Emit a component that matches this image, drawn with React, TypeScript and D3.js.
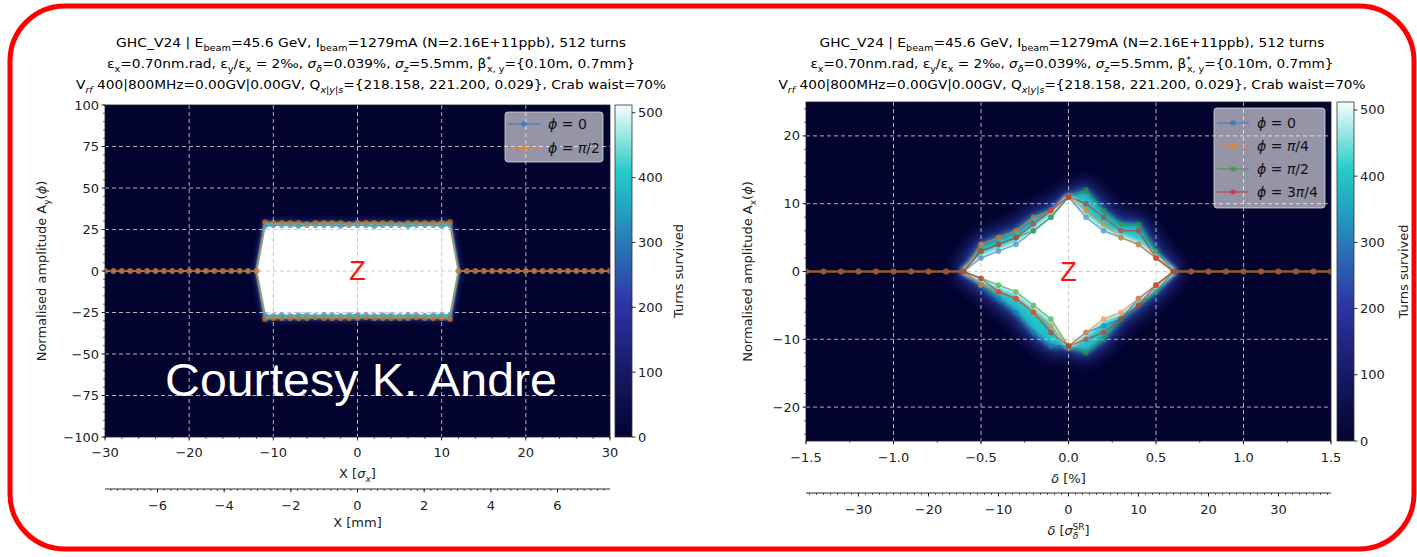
import React from "react";
import * as d3 from "d3";

const W = 1417;
const H = 557;
const FONT = "DejaVu Sans, sans-serif";

// colour map (fraction of max turns -> colour)
const cmapStops = [0, 0.2, 0.4, 0.55, 0.7, 0.8, 0.9, 1];
const cmapColors = ["#03032f", "#161a66", "#2e34a6", "#2a6db4", "#22a8c2", "#25cbc8", "#8fe5e0", "#f7fdfd"];
const turnsMax = 512;
const cbTicks = [0, 100, 200, 300, 400, 500];

// left panel: horizontal scan in sigma_x, vertical amplitude A_y
const leftX = d3.range(-30, 31);
const leftUp0 = [0, 0, 0, 0, 0, 0, 0, 0, 0, 0, 0, 0, 0, 0, 0, 0, 0, 0, 0,
  27, 27.5, 27.5, 27.5, 27, 27.5, 27.5, 27.5, 27.5, 27, 27.5, 27.5, 27.5, 27, 27.5, 27.5, 27.5, 27, 27.5, 27.5, 27.5, 27, 27.5,
  0, 0, 0, 0, 0, 0, 0, 0, 0, 0, 0, 0, 0, 0, 0, 0, 0, 0, 0];
const leftDn0 = [0, 0, 0, 0, 0, 0, 0, 0, 0, 0, 0, 0, 0, 0, 0, 0, 0, 0, 0,
  -26.5, -27, -26.5, -27, -26.5, -26.5, -27, -26.5, -26.5, -27, -26.5, -26.5, -26.5, -27, -26.5, -26.5, -27, -26.5, -26.5, -27, -26.5, -26.5, -26.5,
  0, 0, 0, 0, 0, 0, 0, 0, 0, 0, 0, 0, 0, 0, 0, 0, 0, 0, 0];
const leftUp1 = [0, 0, 0, 0, 0, 0, 0, 0, 0, 0, 0, 0, 0, 0, 0, 0, 0, 0, 0,
  29.5, 29, 29, 29, 29, 28.5, 29, 29, 29, 29, 28.5, 29, 29, 29, 29, 29, 28.5, 29, 29, 29, 29, 29, 29.5,
  0, 0, 0, 0, 0, 0, 0, 0, 0, 0, 0, 0, 0, 0, 0, 0, 0, 0, 0];
const leftDn1 = [0, 0, 0, 0, 0, 0, 0, 0, 0, 0, 0, 0, 0, 0, 0, 0, 0, 0, 0,
  -29, -28.5, -28.5, -28.5, -28.5, -28.5, -28, -28.5, -28.5, -28.5, -28.5, -28.5, -28, -28.5, -28.5, -28.5, -28.5, -28.5, -28, -28.5, -28.5, -28.5, -29,
  0, 0, 0, 0, 0, 0, 0, 0, 0, 0, 0, 0, 0, 0, 0, 0, 0, 0, 0];
const sigmaXmm = 0.2525; // mm per sigma_x (secondary axis)

// right panel: momentum scan delta [%], horizontal amplitude A_x
const rightX = [-1.5, -1.4, -1.3, -1.2, -1.1, -1.0, -0.9, -0.8, -0.7, -0.6, -0.5, -0.4, -0.3, -0.2, -0.1, 0,
  0.1, 0.2, 0.3, 0.4, 0.5, 0.6, 0.7, 0.8, 0.9, 1.0, 1.1, 1.2, 1.3, 1.4, 1.5];
const rightUp0 = [0, 0, 0, 0, 0, 0, 0, 0, 0, 0, 2, 3, 4, 6, 8, 11, 8, 6, 5, 4, 2, 0, 0, 0, 0, 0, 0, 0, 0, 0, 0];
const rightDn0 = [0, 0, 0, 0, 0, 0, 0, 0, 0, 0, -2, -4, -6, -9, -11, -11, -9, -8, -7, -4, -2, 0, 0, 0, 0, 0, 0, 0, 0, 0, 0];
const rightUp1 = [0, 0, 0, 0, 0, 0, 0, 0, 0, 0, 4, 5, 6, 8, 9, 11, 9, 7, 5, 4, 2, 0, 0, 0, 0, 0, 0, 0, 0, 0, 0];
const rightDn1 = [0, 0, 0, 0, 0, 0, 0, 0, 0, 0, -2, -3, -4, -6, -8, -11, -9, -7, -6, -4, -2, 0, 0, 0, 0, 0, 0, 0, 0, 0, 0];
const rightUp2 = [0, 0, 0, 0, 0, 0, 0, 0, 0, 0, 3, 4, 5, 6, 8, 11, 12, 9, 7, 7, 3, 0, 0, 0, 0, 0, 0, 0, 0, 0, 0];
const rightDn2 = [0, 0, 0, 0, 0, 0, 0, 0, 0, 0, -1, -2, -3, -5, -7, -11, -12, -10, -7, -5, -3, 0, 0, 0, 0, 0, 0, 0, 0, 0, 0];
const rightUp3 = [0, 0, 0, 0, 0, 0, 0, 0, 0, 0, 3, 4, 5, 7, 9, 11, 10, 8, 6, 6, 2, 0, 0, 0, 0, 0, 0, 0, 0, 0, 0];
const rightDn3 = [0, 0, 0, 0, 0, 0, 0, 0, 0, 0, -1, -3, -4, -6, -9, -11, -10, -9, -7, -5, -2, 0, 0, 0, 0, 0, 0, 0, 0, 0, 0];
const sigmaDelta = 0.04; // % per sigma_delta^SR

const C0 = "#1f77b4", C1 = "#ff7f0e", C2 = "#2ca02c", C3 = "#d62728";

const cmap = d3.scaleLinear<string>().domain(cmapStops).range(cmapColors).interpolate(d3.interpolateRgb);

type Seg = [string, string?, number?];

function Rich({ segs, size, ...rest }: any) {
  let off = 0;
  return (
    <text {...rest} fontSize={size} style={{ whiteSpace: "pre" }}>
      {segs.map(([t, k = "", dx = 0]: Seg, i: number) => {
        const small = k.includes("s") || k.includes("p");
        const target = k.includes("s") ? size * 0.28 : k.includes("p") ? -size * 0.4 : 0;
        const dy = target - off;
        off = target;
        return (
          <tspan key={i} dy={dy} dx={dx} fontSize={small ? size * 0.7 : size} fontStyle={k.includes("i") ? "italic" : "normal"}>
            {t}
          </tspan>
        );
      })}
    </text>
  );
}

const title1: Seg[] = [["GHC_V24 | E"], ["beam", "s"], ["=45.6 GeV, I"], ["beam", "s"], ["=1279mA (N=2.16E+11ppb), 512 turns"]];
const title2: Seg[] = [["ε"], ["x", "s"], ["=0.70nm.rad, ε"], ["y", "s"], ["/ε"], ["x", "s"], [" = 2‰, "], ["σ", "i"], ["δ", "si"],
  ["=0.039%, "], ["σ", "i"], ["z", "si"], ["=5.5mm, β"], ["*", "p"], ["x, y", "s", -4], ["={0.10m, 0.7mm}"]];
const title3: Seg[] = [["V"], ["rf", "si"], [" 400|800MHz=0.00GV|0.00GV, Q"], ["x|y|s", "si"], ["={218.158, 221.200, 0.029}, Crab waist=70%"]];

const minus = (s: string) => s.replace("-", "\u2212");

function Panel(c: any) {
  const { id, x, y, sec, xs, series } = c;
  const [X0, X1] = x.range();
  const [Y1, Y0] = y.range();
  const n = xs.length;
  const outUp = xs.map((_: number, i: number) => d3.max(series, (s: any) => s.up[i]) as number);
  const outDn = xs.map((_: number, i: number) => d3.min(series, (s: any) => s.dn[i]) as number);
  const inUp = xs.map((_: number, i: number) => d3.min(series, (s: any) => s.up[i]) as number);
  const inDn = xs.map((_: number, i: number) => d3.max(series, (s: any) => s.dn[i]) as number);
  // surviving stretch: first/last scan point with non-zero amplitude, plus one neighbour
  const nz = d3.range(n).filter((i) => outUp[i] !== 0 || outDn[i] !== 0);
  const iA = Math.max(0, (d3.min(nz) as number) - 1);
  const iB = Math.min(n - 1, (d3.max(nz) as number) + 1);
  const poly = (up: number[], dn: number[]) => {
    const pts: [number, number][] = [];
    for (let i = iA; i <= iB; i++) pts.push([x(xs[i]), y(up[i])]);
    for (let i = iB; i >= iA; i--) pts.push([x(xs[i]), y(dn[i])]);
    return d3.line()(pts) + "Z";
  };
  const line = d3.line<number>().x((_, i) => x(xs[i])).y((v) => y(v));
  const cbY = d3.scaleLinear([0, turnsMax], [Y1, Y0]);
  const cbR = c.cbX + c.cbW;
  const tl = (v: number) => minus(c.xFmt(v));
  return (
    <g>
      <defs>
        <clipPath id={id + "-clip"}>
          <rect x={X0} y={Y0} width={X1 - X0} height={Y1 - Y0} />
        </clipPath>
        {c.blur.map((b: number, i: number) => (
          <filter key={i} id={`${id}-b${i}`} x="-50%" y="-50%" width="200%" height="200%">
            <feGaussianBlur stdDeviation={b} />
          </filter>
        ))}
        <linearGradient id={id + "-cb"} x1="0" y1="1" x2="0" y2="0">
          {cmapStops.map((s, i) => (
            <stop key={i} offset={s} stopColor={cmapColors[i]} />
          ))}
        </linearGradient>
      </defs>

      {/* titles */}
      <Rich segs={title1} size={13} x={c.titleCx} y={47} textAnchor="middle" textLength={c.titleW[0]} lengthAdjust="spacingAndGlyphs" />
      <Rich segs={title2} size={13} x={c.titleCx} y={68} textAnchor="middle" textLength={c.titleW[1]} lengthAdjust="spacingAndGlyphs" />
      <Rich segs={title3} size={13} x={c.titleCx} y={89} textAnchor="middle" textLength={c.titleW[2]} lengthAdjust="spacingAndGlyphs" />

      {/* survival map */}
      <g clipPath={`url(#${id}-clip)`}>
        <rect x={X0} y={Y0} width={X1 - X0} height={Y1 - Y0} fill={cmap(0)} />
        <path d={poly(outUp, outDn)} fill={cmap(0.42)} stroke={cmap(0.42)} strokeWidth={c.haloW} strokeLinejoin="round" opacity={0.9} filter={`url(#${id}-b0)`} />
        <path d={poly(outUp, outDn)} fill={cmap(0.78)} stroke={cmap(0.78)} strokeWidth={1} filter={`url(#${id}-b1)`} />
        <path d={poly(inUp, inDn)} fill="#ffffff" stroke="#ffffff" strokeWidth={c.whiteW} strokeLinejoin="round" filter={`url(#${id}-b2)`} />
        {c.xGrid.map((v: number) => (
          <line key={"gx" + v} x1={x(v)} x2={x(v)} y1={Y0} y2={Y1} stroke="#c4c4c4" strokeWidth={0.9} strokeDasharray="4,3" />
        ))}
        {c.yGrid.map((v: number) => (
          <line key={"gy" + v} x1={X0} x2={X1} y1={y(v)} y2={y(v)} stroke="#c4c4c4" strokeWidth={0.9} strokeDasharray="4,3" />
        ))}
        {series.map((s: any, k: number) => (
          <g key={k} opacity={0.6}>
            <path d={line(s.up) as string} fill="none" stroke={s.color} strokeWidth={1.5} />
            <path d={line(s.dn) as string} fill="none" stroke={s.color} strokeWidth={1.5} />
            {xs.map((v: number, i: number) => (
              <g key={i}>
                <circle cx={x(v)} cy={y(s.up[i])} r={2.8} fill={s.color} />
                <circle cx={x(v)} cy={y(s.dn[i])} r={2.8} fill={s.color} />
              </g>
            ))}
          </g>
        ))}
        <text x={x(0)} y={y(0) + 9} textAnchor="middle" fontSize={27} fill="#ff1010" fontFamily="Liberation Sans, Arial, sans-serif">Z</text>
      </g>
      <rect x={X0} y={Y0} width={X1 - X0} height={Y1 - Y0} fill="none" stroke="#222" strokeWidth={0.8} />

      {/* legend */}
      <rect x={c.leg.x0} y={c.leg.y0} width={c.leg.x1 - c.leg.x0} height={c.leg.y1 - c.leg.y0} rx={3} fill="#ffffff" fillOpacity={0.58} stroke="#d8d8d8" strokeWidth={0.8} />
      {series.map((s: any, k: number) => (
        <g key={k}>
          <line x1={c.leg.x0 + 3} x2={c.leg.x0 + 35} y1={c.leg.rows[k]} y2={c.leg.rows[k]} stroke={s.color} strokeOpacity={0.6} strokeWidth={1.5} />
          <circle cx={c.leg.x0 + 19} cy={c.leg.rows[k]} r={2.8} fill={s.color} fillOpacity={0.6} />
          <Rich segs={s.label} size={14} x={c.leg.x0 + 43} y={c.leg.rows[k] + 5} fill="#111" />
        </g>
      ))}

      {/* x axis */}
      {c.xMinor.map((v: number) => (
        <line key={"xm" + v} x1={x(v)} x2={x(v)} y1={Y1} y2={Y1 + 2} stroke="#000" strokeWidth={0.6} />
      ))}
      {c.xMajor.map((v: number) => (
        <g key={"xM" + v}>
          <line x1={x(v)} x2={x(v)} y1={Y1} y2={Y1 + 3.5} stroke="#000" strokeWidth={0.8} />
          <text x={x(v)} y={c.xTickY} textAnchor="middle" fontSize={13} fill="#222">{tl(v)}</text>
        </g>
      ))}
      <Rich segs={c.xLabel} size={13} x={x(0)} y={c.xLabelY} textAnchor="middle" fill="#222" />

      {/* y axis */}
      {c.yMinor.map((v: number) => (
        <line key={"ym" + v} x1={X0 - 2} x2={X0} y1={y(v)} y2={y(v)} stroke="#000" strokeWidth={0.6} />
      ))}
      {c.yMajor.map((v: number) => (
        <g key={"yM" + v}>
          <line x1={X0 - 3.5} x2={X0} y1={y(v)} y2={y(v)} stroke="#000" strokeWidth={0.8} />
          <text x={X0 - 6} y={y(v) + 4.5} textAnchor="end" fontSize={13} fill="#222">{minus(String(v))}</text>
        </g>
      ))}
      <Rich segs={c.yLabel} size={13} transform={`translate(${c.yLabelX},${y(0)}) rotate(-90)`} textAnchor="middle" fill="#222" />

      {/* secondary x axis */}
      <line x1={X0} x2={X1} y1={c.secY} y2={c.secY} stroke="#111" strokeWidth={0.9} />
      {c.secMinor.map((v: number, i: number) => (
        <line key={"sm" + i} x1={sec(v)} x2={sec(v)} y1={c.secY} y2={c.secY + 2} stroke="#000" strokeWidth={0.6} />
      ))}
      {c.secMajor.map((v: number) => (
        <g key={"sM" + v}>
          <line x1={sec(v)} x2={sec(v)} y1={c.secY} y2={c.secY + 3.5} stroke="#000" strokeWidth={0.8} />
          <text x={sec(v)} y={c.secTickY} textAnchor="middle" fontSize={13} fill="#222">{minus(String(v))}</text>
        </g>
      ))}
      <Rich segs={c.secLabel} size={13} x={x(0)} y={c.secLabelY} textAnchor="middle" fill="#222" />

      {/* colour bar */}
      <rect x={c.cbX} y={Y0} width={c.cbW} height={Y1 - Y0} fill={`url(#${id}-cb)`} stroke="#333" strokeWidth={0.8} />
      {cbTicks.map((v) => (
        <g key={"cb" + v}>
          <line x1={cbR} x2={cbR + 3.5} y1={cbY(v)} y2={cbY(v)} stroke="#000" strokeWidth={0.8} />
          <text x={cbR + 6} y={cbY(v) + 4.5} fontSize={13} fill="#222">{v}</text>
        </g>
      ))}
      <text transform={`translate(${c.cbLabelX},${(Y0 + Y1) / 2}) rotate(-90)`} textAnchor="middle" dominantBaseline="central" fontSize={13} fill="#222">Turns survived</text>
    </g>
  );
}

const xL = d3.scaleLinear([-30, 30], [105, 610]);
const yL = d3.scaleLinear([-100, 100], [437, 105]);
const mmL = d3.scaleLinear([-30 * sigmaXmm, 30 * sigmaXmm], [105, 610]);

const xR = d3.scaleLinear([-1.5, 1.5], [806, 1331]);
const yR = d3.scaleLinear([-25, 25], [441, 102]);
const sgR = d3.scaleLinear([-1.5 / sigmaDelta, 1.5 / sigmaDelta], [806, 1331]);

const leftCfg = {
  id: "L", x: xL, y: yL, sec: mmL, xs: leftX,
  series: [
    { up: leftUp0, dn: leftDn0, color: C0, label: [["ϕ", "i"], [" = 0"]] },
    { up: leftUp1, dn: leftDn1, color: C1, label: [["ϕ", "i"], [" = "], ["π", "i"], ["/2"]] },
  ],
  blur: [3.5, 1.5, 0.9], haloW: 3, whiteW: 0,
  xMajor: [-30, -20, -10, 0, 10, 20, 30], xMinor: d3.range(-30, 31, 2), xGrid: [-20, -10, 0, 10, 20],
  yMajor: [-100, -75, -50, -25, 0, 25, 50, 75, 100], yMinor: d3.range(-100, 101, 5), yGrid: [-75, -50, -25, 0, 25, 50, 75],
  xFmt: (v: number) => String(v),
  xTickY: 457, xLabelY: 478, secY: 489, secTickY: 510, secLabelY: 527,
  xLabel: [["X ["], ["σ", "i"], ["x", "si"], ["]"]],
  secLabel: [["X [mm]"]],
  secMajor: [-6, -4, -2, 0, 2, 4, 6], secMinor: d3.range(-37, 38).map((v) => v / 5),
  yLabel: [["Normalised amplitude A"], ["y", "s"], ["("], ["ϕ", "i"], [")"]], yLabelX: 46,
  titleCx: 371, titleW: [510, 528, 590],
  cbX: 615, cbW: 17, cbLabelX: 678,
  leg: { x0: 505, x1: 603, y0: 112, y1: 162, rows: [124, 148] },
};

const rightCfg = {
  id: "R", x: xR, y: yR, sec: sgR, xs: rightX,
  series: [
    { up: rightUp0, dn: rightDn0, color: C0, label: [["ϕ", "i"], [" = 0"]] },
    { up: rightUp1, dn: rightDn1, color: C1, label: [["ϕ", "i"], [" = "], ["π", "i"], ["/4"]] },
    { up: rightUp2, dn: rightDn2, color: C2, label: [["ϕ", "i"], [" = "], ["π", "i"], ["/2"]] },
    { up: rightUp3, dn: rightDn3, color: C3, label: [["ϕ", "i"], [" = 3"], ["π", "i"], ["/4"]] },
  ],
  blur: [8, 3, 2.5], haloW: 16, whiteW: 5,
  xMajor: [-1.5, -1, -0.5, 0, 0.5, 1, 1.5], xMinor: d3.range(-6, 7).map((v) => v / 4), xGrid: [-1, -0.5, 0, 0.5, 1],
  yMajor: [-20, -10, 0, 10, 20], yMinor: d3.range(-24, 25, 2), yGrid: [-20, -10, 0, 10, 20],
  xFmt: (v: number) => v.toFixed(1),
  xTickY: 462, xLabelY: 483, secY: 493, secTickY: 514, secLabelY: 535,
  xLabel: [["δ", "i"], [" [%]"]],
  secLabel: [["δ", "i"], [" ["], ["σ", "i"], ["δ", "si"], ["SR", "p", -6], ["]"]],
  secMajor: [-30, -20, -10, 0, 10, 20, 30], secMinor: d3.range(-37, 38),
  yLabel: [["Normalised amplitude A"], ["x", "s"], ["("], ["ϕ", "i"], [")"]], yLabelX: 752,
  titleCx: 1072, titleW: [505, 523, 587],
  cbX: 1337, cbW: 17, cbLabelX: 1403,
  leg: { x0: 1214, x1: 1325, y0: 108, y1: 208, rows: [123, 146, 169, 192] },
};

export default function App() {
  return (
    <svg width={W} height={H} style={{ position: "absolute", left: 0, top: 0, background: "#fff" }} fontFamily={FONT}>
      <Panel {...leftCfg} />
      <Panel {...rightCfg} />
      <text x={361} y={396} fill="#fff" fontFamily="Liberation Sans, Arial, sans-serif" fontSize={46} textAnchor="middle" textLength={392} lengthAdjust="spacingAndGlyphs">
        Courtesy K. Andre
      </text>
      <rect x={10} y={6} width={1404} height={543} rx={55} fill="none" stroke="#ff0000" strokeWidth={5} />
    </svg>
  );
}
